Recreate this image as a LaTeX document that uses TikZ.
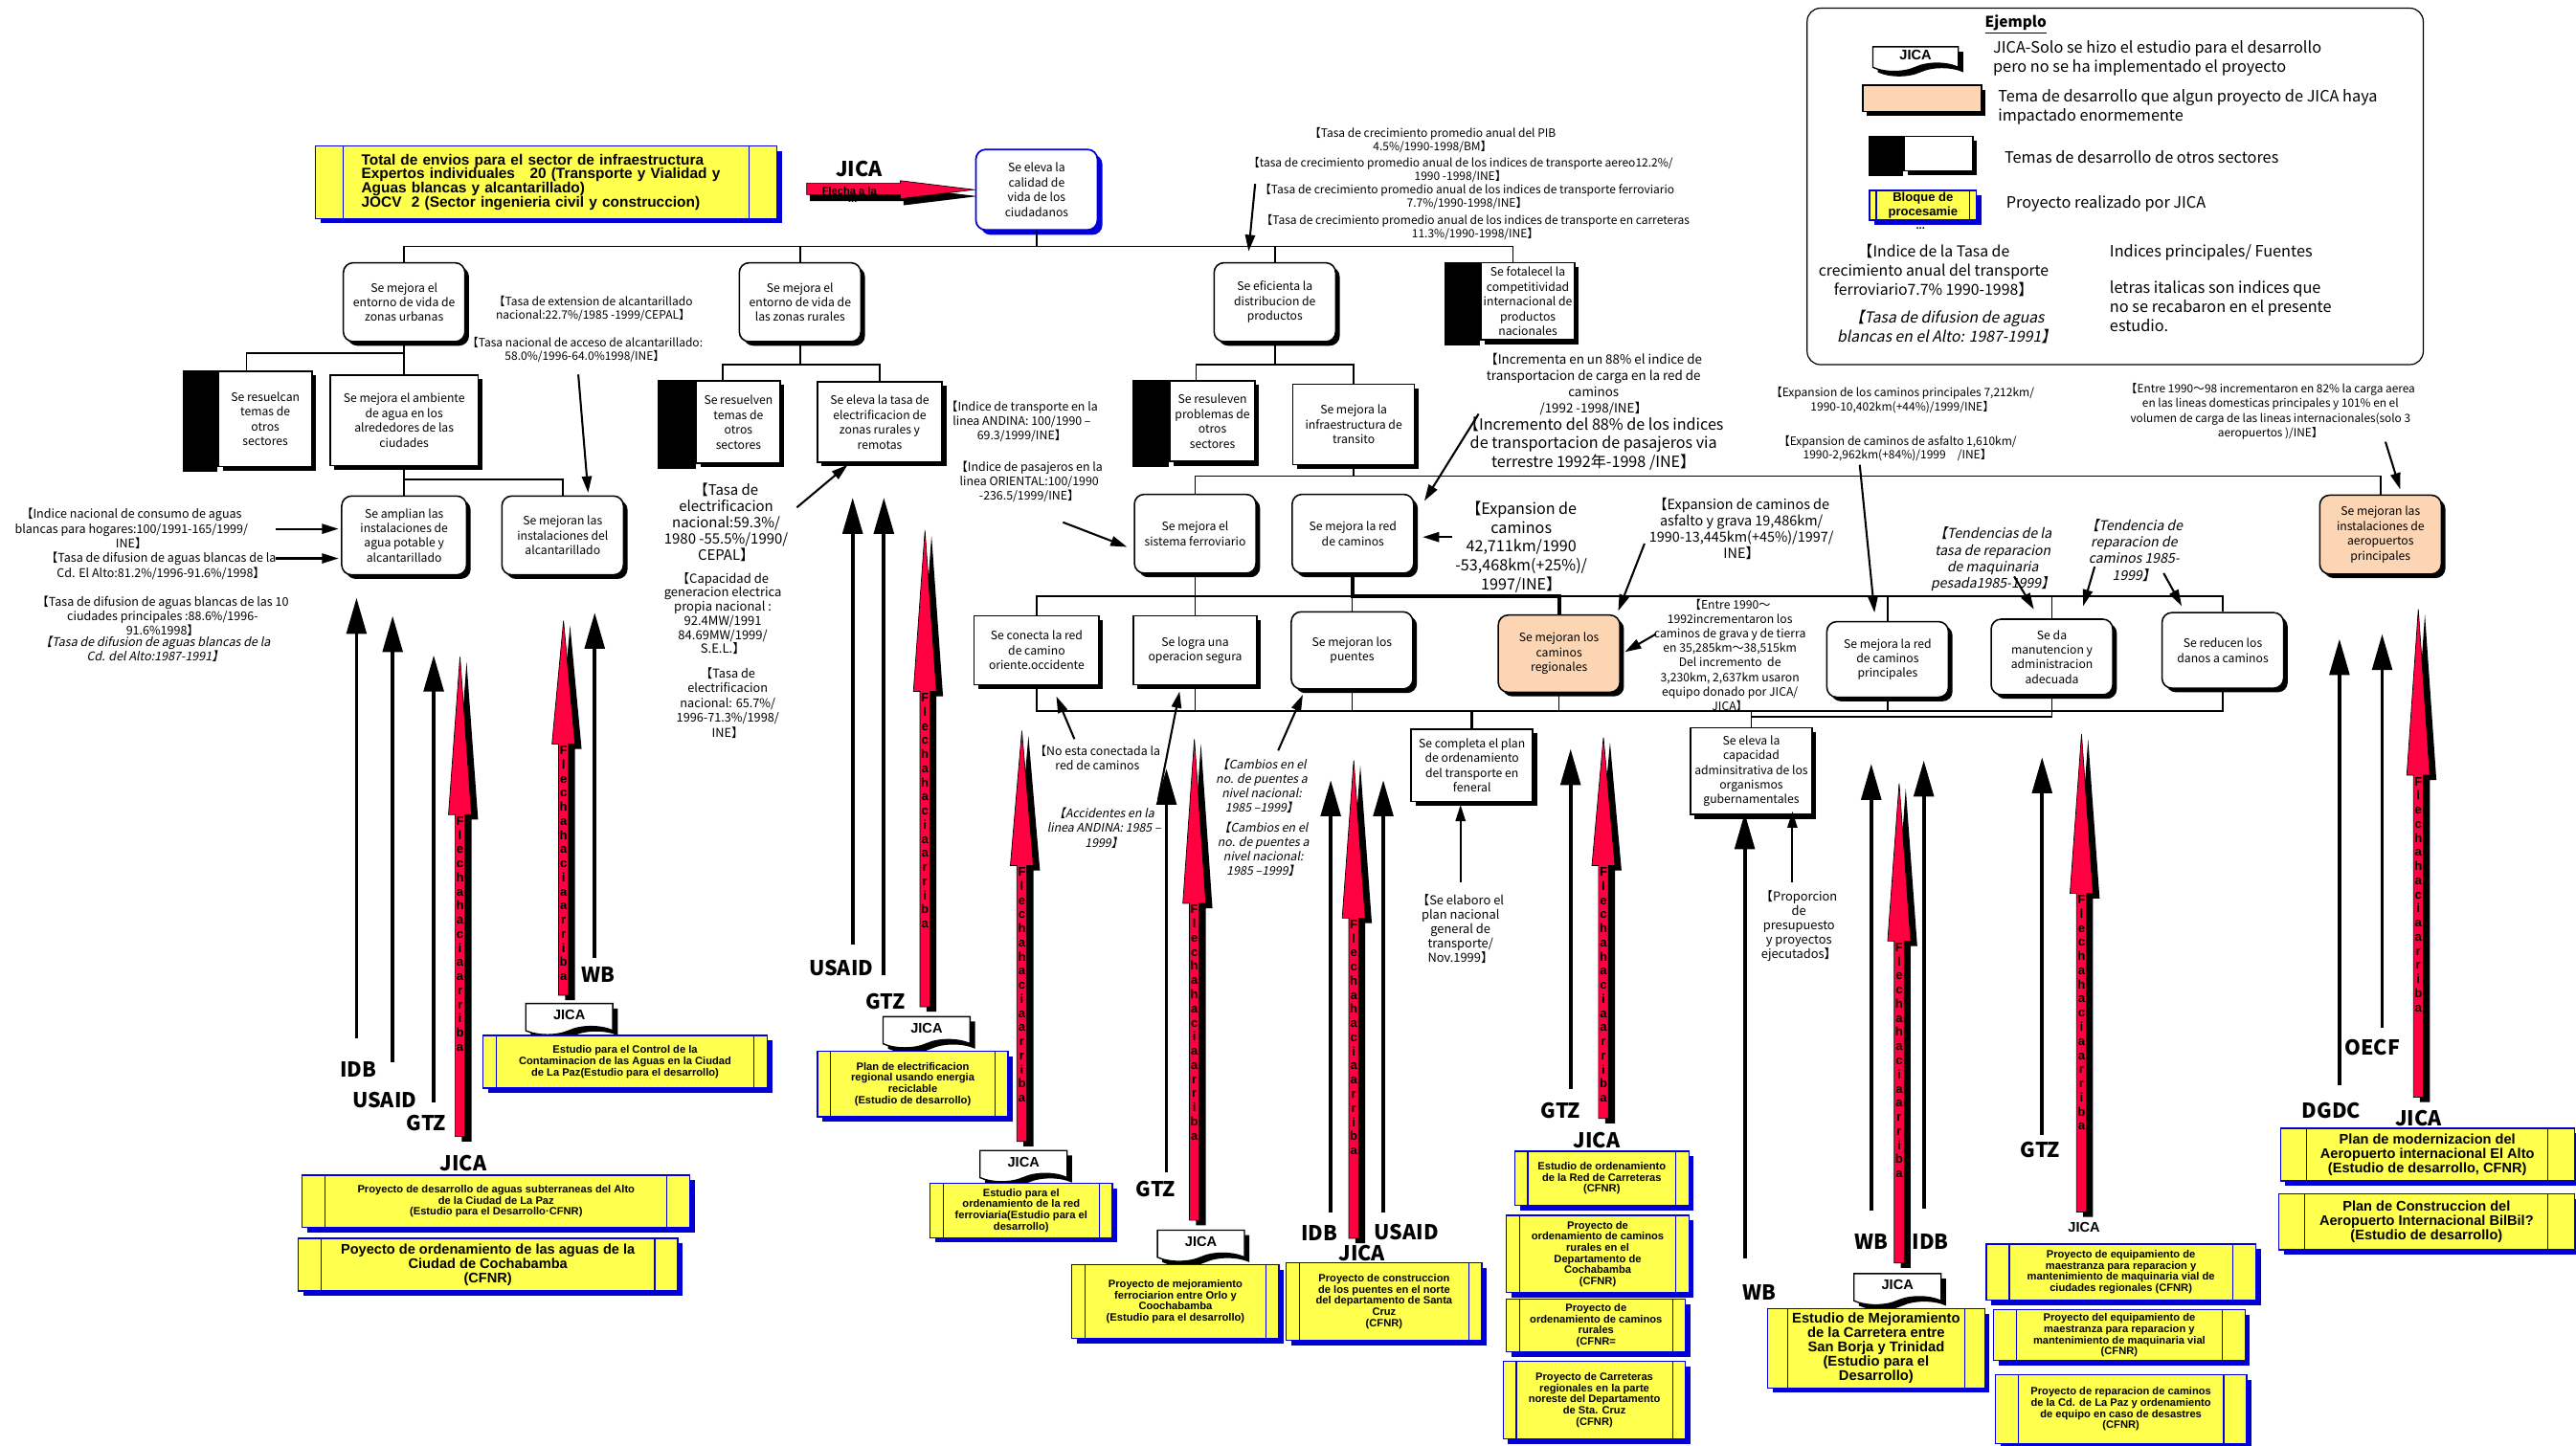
\documentclass[tikz,border=0pt]{standalone}
\usepackage{fontspec}
\setmainfont{Noto Sans CJK JP}[AutoFakeSlant=0.2]
\newfontfamily\projfont{Liberation Sans}
\usetikzlibrary{arrows.meta,calc,shadows,shapes.symbols}

\definecolor{projyellow}{RGB}{255,255,77}
\definecolor{projblue}{RGB}{0,0,215}
\definecolor{peach}{RGB}{252,214,180}
\definecolor{arrowred}{RGB}{255,0,64}

\newcommand\boxfont{\fontsize{7.1}{9}\selectfont}
\newcommand\notefont{\fontsize{7}{8.8}\selectfont}
\newcommand\legfont{\fontsize{9.5}{11.5}\selectfont}
\newcommand\projsmall{\projfont\bfseries\fontsize{6.5}{6.8}\selectfont}
\newcommand\projbig{\projfont\bfseries\fontsize{8.5}{8.7}\selectfont}
\newcommand\lblfont{\bfseries\fontsize{12.5}{13}\selectfont}

% black part of the boxes of other sectors
\newcommand\sidebar[2]{\fill ([xshift=-#2pt]#1.north west) rectangle ([yshift=-3pt]#1.south west);}

% red arrow: name, x, tip, head base, bottom
\newcommand\redarrow[5]{%
	\fill[black, shift={(4,3)}] (#2,#3) -- (#2+7,#4) -- (#2+3,#4) -- (#2+3,#5) -- (#2-3,#5) -- (#2-3,#4) -- (#2-7,#4) -- cycle;
	\filldraw[fill=arrowred, line width=.4pt] (#2,#3) -- (#2+7,#4) -- (#2+3,#4) -- (#2+3,#5) -- (#2-3,#5) -- (#2-3,#4) -- (#2-7,#4) -- cycle;
	\node[flecha] (#1) at (#2,#4+1) {F\\l\\e\\c\\h\\a\\h\\a\\c\\i\\a\\a\\r\\r\\i\\b\\a};}

\begin{document}
\begin{tikzpicture}[x=1pt, y=-1pt,
	tree/.style={line width=.9pt},
	thicktree/.style={line width=2.4pt},
	rbox/.style={draw, line width=.9pt, rounded corners=6pt, fill=white, align=center, font=\boxfont, inner sep=1pt,
		minimum width=74, minimum height=48, drop shadow={shadow xshift=2.5pt, shadow yshift=-2.5pt, fill=black, opacity=1}},
	sqbox/.style={rbox, sharp corners},
	topbox/.style={draw=projblue, line width=1pt, rounded corners=6pt, fill=white, align=center, font=\boxfont,
		minimum width=74, minimum height=49, drop shadow={shadow xshift=3pt, shadow yshift=-3pt, fill=projblue, opacity=1}},
	projbox/.style={draw=projblue, fill=projyellow, line width=.7pt, align=center, inner sep=1pt, font=\projsmall,
		drop shadow={shadow xshift=3pt, shadow yshift=-3pt, fill=projblue, opacity=1},
		path picture={\draw[projblue, line width=.7pt] ([xshift=#1]path picture bounding box.north west) -- ([xshift=#1]path picture bounding box.south west)
			([xshift=-#1]path picture bounding box.north east) -- ([xshift=-#1]path picture bounding box.south east);}},
	projbox/.default=8pt,
	banner/.style={shape=tape, tape bend top=none, tape bend height=5pt, draw, line width=.8pt, fill=white,
		font=\projfont\bfseries\fontsize{8.5}{9}\selectfont, minimum width=53, minimum height=19, inner sep=1pt,
		drop shadow={shadow xshift=3pt, shadow yshift=-3pt, fill=black, opacity=1}},
	note/.style={align=center, inner sep=0pt, font=\notefont},
	lbl/.style={inner sep=0pt, font=\lblfont},
	flecha/.style={text=black, font=\projfont\bfseries\fontsize{7.6}{8.6}\selectfont, align=center, anchor=north, inner sep=0pt},
	notearr/.style={line width=1.2pt, -{Triangle[length=10pt,width=6pt]}},
	fundarr/.style={line width=2.2pt, -{Triangle[length=22pt,width=12pt]}}]

	\useasboundingbox (0,0) rectangle (1568,880);

	% top
	\node[projbox=17pt, font=\projfont\bfseries\fontsize{9}{8.7}\selectfont, align=left, text width=225, inner xsep=28pt, minimum height=44] (envios) at (332.5,111)
		{Total de envios para el sector de infraestructura\\Expertos individuales\ \ \ 20 (Transporte y Vialidad y\\Aguas blancas y alcantarillado)\\JOCV\ \ 2 (Sector ingenieria civil y construccion)};
	\node[lbl] (jicatop) at (523,103) {JICA};
	\fill[black, shift={(2,4)}] (491,111.5) -- (548,111.5) -- (548,110) -- (593,115.5) -- (548,121) -- (548,118.5) -- (491,118.5) -- cycle;
	\filldraw[fill=arrowred, line width=.4pt] (491,111.5) -- (548,111.5) -- (548,110) -- (593,115.5) -- (548,121) -- (548,118.5) -- (491,118.5) -- cycle;
	\node[inner sep=0pt, font=\projfont\bfseries\fontsize{6.5}{7}\selectfont] (flechatop) at (517,116) {Flecha a la};
	\node[inner sep=0pt, font=\projfont\bfseries\fontsize{6.5}{7}\selectfont] (dotstop) at (519,123) {...};
	\node[topbox] (calidad) at (631,115.5) {Se eleva la\\calidad de\\vida de los\\ciudadanos};

	% level 1
	\node[rbox] (urban) at (246,184) {Se mejora el\\entorno de vida de\\zonas urbanas};
	\node[rbox] (rural) at (487,184) {Se mejora el\\entorno de vida de\\las zonas rurales};
	\node[rbox] (distrib) at (776,184) {Se eficienta la\\distribucion de\\productos};
	\node[sqbox, minimum width=57, minimum height=47, inner sep=0pt] (compet) at (930,183.5) {Se fotalecel la\\competitividad\\internacional de\\productos\\nacionales};
	\sidebar{compet}{22}
	\draw[tree] (calidad.south) -- (calidad.south |- 0,150);
	\draw[tree] (urban.north) |- (921,150) -- (921,160);
	\draw[tree] (rural.north) -- (rural.north |- 0,150);
	\draw[tree] (distrib.north) -- (distrib.north |- 0,150);

	% urban branch
	\node[sqbox, minimum width=57, minimum height=58] (otrosA) at (161.5,255) {Se resuelcan\\temas de\\otros\\sectores};
	\sidebar{otrosA}{21}
	\node[sqbox, minimum width=90, minimum height=55] (ambiente) at (246,256) {Se mejora el ambiente\\de agua en los\\alrededores de las\\ciudades};
	\node[rbox, minimum width=76] (agua) at (246,326) {Se amplian las\\instalaciones de\\agua potable y\\alcantarillado};
	\node[rbox] (alcant) at (342.5,326) {Se mejoran las\\instalaciones del\\alcantarillado};
	\draw[tree] (urban.south) -- (ambiente.north);
	\draw[tree] ([xshift=-11.5pt]otrosA.north) |- (ambiente.north |- 0,215);
	\draw[tree] (ambiente.south) -- (agua.north);
	\draw[tree] (ambiente.south |- 0,292) -| (alcant.north);

	\node[note, font=\fontsize{7}{8.5}\selectfont] (n_alc1) at (361,188) {【Tasa de extension de alcantarillado\\nacional:22.7\%/1985 -1999/CEPAL】};
	\node[note, font=\fontsize{7}{8.5}\selectfont] (n_alc2) at (356,213) {【Tasa nacional de acceso de alcantarillado:\\58.0\%/1996-64.0\%1998/INE】};
	\draw[notearr] (352,228) -- (358,300);
	\node[note, font=\fontsize{7.3}{9}\selectfont] (n_cons) at (80,322) {【Indice nacional de consumo de aguas\\blancas para hogares:100/1991-165/1999/\\INE】};
	\node[note, font=\fontsize{7.3}{9}\selectfont] (n_alto) at (98,344.5) {【Tasa de difusion de aguas blancas de la\\Cd. El Alto:81.2\%/1996-91.6\%/1998】};
	\node[note, font=\fontsize{7.3}{8.6}\selectfont] (n_diez) at (99,375) {【Tasa de difusion de aguas blancas de las 10\\ciudades principales :88.6\%/1996-\\91.6\%1998】};
	\node[note, font=\fontsize{7.3}{8.6}\selectfont\itshape] (n_diezI) at (94.5,395) {【Tasa de difusion de aguas blancas de la\\Cd. del Alto:1987-1991】};
	\draw[notearr] (168,322) -- (206,322);
	\draw[notearr] (168,340) -- (206,340);

	% rural branch
	\node[sqbox, minimum width=51, minimum height=50] (otrosB) at (449.5,257) {Se resuelven\\temas de\\otros\\sectores};
	\sidebar{otrosB}{23}
	\node[sqbox, minimum width=76, minimum height=49] (electr) at (535.5,257) {Se eleva la tasa de\\electrificacion de\\zonas rurales y\\remotas};
	\draw[tree] (rural.south) -- (rural.south |- 0,222);
	\draw[tree] ([xshift=-9.5pt]otrosB.north) |- (electr.north |- 0,222) -- (electr.north);
	\node[note, font=\fontsize{8.7}{9.8}\selectfont] (n_el1) at (442,318) {【Tasa de\\electrificacion\\nacional:59.3\%/\\1980 -55.5\%/1990/\\CEPAL】};
	\node[note, font=\fontsize{7.6}{8.6}\selectfont] (n_el2) at (440,373.5) {【Capacidad de\\generacion electrica\\propia nacional :\\92.4MW/1991\\84.69MW/1999/\\S.E.L.】};
	\node[note, font=\fontsize{7.4}{9}\selectfont] (n_el3) at (443,428) {【Tasa de\\electrificacion\\nacional: 65.7\%/\\1996-71.3\%/1998/\\INE】};
	\draw[notearr] (485,309) -- (516,283);
	\node[note, font=\fontsize{7.2}{8.7}\selectfont] (n_andina) at (622,256.5) {【Indice de transporte en la\\linea ANDINA: 100/1990 –\\69.3/1999/INE】};
	\node[note, font=\fontsize{7.2}{8.7}\selectfont] (n_oriental) at (626.5,293.5) {【Indice de pasajeros en la\\linea ORIENTAL:100/1990\\-236.5/1999/INE】};
	\draw[notearr] (647,318) -- (686,333);

	% distribution branch
	\node[sqbox, minimum width=52, minimum height=49] (otrosC) at (738,256.5) {Se resuleven\\problemas de\\otros\\sectores};
	\sidebar{otrosC}{22}
	\node[sqbox, minimum width=74, minimum height=49] (infra) at (824,258.5) {Se mejora la\\infraestructura de\\transito};
	\draw[tree] (distrib.south) -- (distrib.south |- 0,222);
	\draw[tree] ([xshift=-10pt]otrosC.north) |- (infra.north |- 0,222) -- (infra.north);
	\node[note, font=\fontsize{7}{8.1}\selectfont] (n_pib) at (872,85.5) {【Tasa de crecimiento promedio anual del PIB\\4.5\%/1990-1998/BM】};
	\node[note, font=\fontsize{7}{8.1}\selectfont] (n_aereo) at (889,103.5) {【tasa de crecimiento promedio anual de los indices de transporte aereo12.2\%/\\1990 -1998/INE】};
	\node[note, font=\fontsize{7}{8.1}\selectfont] (n_ferro) at (893,119.5) {【Tasa de crecimiento promedio anual de los indices de transporte ferroviario\\7.7\%/1990-1998/INE】};
	\node[note, font=\fontsize{7}{8.1}\selectfont] (n_carr) at (898,138.5) {【Tasa de crecimiento promedio anual de los indices de transporte en carreteras\\11.3\%/1990-1998/INE】};
	\draw[notearr] (764,112) -- (760,153);

	% transit
	\node[rbox] (ferro) at (727.5,325) {Se mejora el\\sistema ferroviario};
	\node[rbox] (redcam) at (823.5,325) {Se mejora la red\\de caminos};
	\node[rbox, fill=peach] (aero) at (1449,325.5) {Se mejoran las\\instalaciones de\\aeropuertos\\principales};
	\draw[tree] (infra.south) -- (infra.south |- 0,290);
	\draw[tree] (ferro.north) |- (aero.north |- 0,290) -- (aero.north);

	\node[note, font=\fontsize{7.8}{10}\selectfont] (n_carga) at (970,234) {【Incrementa en un 88\% el indice de\\transportacion de carga en la red de\\caminos\\/1992 -1998/INE】};
	\node[note, font=\fontsize{9.4}{11.5}\selectfont] (n_pasaj) at (970,270) {【Incremento del 88\% de los indices\\de transportacion de pasajeros via\\terrestre 1992年-1998 /INE】};
	\draw[notearr] (900,252) -- (867,305);
	\node[note, font=\fontsize{9.4}{11.5}\selectfont] (n_expan) at (926,333) {【Expansion de\\caminos\\42,711km/1990\\-53,468km(+25\%)/\\1997/INE】};
	\draw[notearr] (884,327) -- (866,327);
	\node[note, font=\fontsize{8.4}{10}\selectfont] (n_asf) at (1060,322) {【Expansion de caminos de\\asfalto y grava 19,486km/\\1990-13,445km(+45\%)/1997/\\INE】};
	\draw[notearr] (1001,331) -- (985,372);
	\node[note, font=\fontsize{7}{8.5}\selectfont] (n_princ) at (1158,243.5) {【Expansion de los caminos principales 7,212km/\\1990-10,402km(+44\%)/1999/INE】};
	\node[note, font=\fontsize{7}{8.5}\selectfont] (n_asf2) at (1155,273) {【Expansion de caminos de asfalto 1,610km/\\1990-2,962km(+84\%)/1999　/INE】};
	\draw[notearr] (1132,283) -- (1141,373);
	\node[note, font=\fontsize{8.2}{10}\selectfont\itshape] (n_maq) at (1213,340.5) {【Tendencias de la\\tasa de reparacion\\de maquinaria\\pesada1985-1999】};
	\node[note, font=\fontsize{8.2}{10}\selectfont\itshape] (n_repcam) at (1299,335) {【Tendencia de\\reparacion de\\caminos 1985-\\1999】};
	\draw[notearr] (1226,351) -- (1238,371);
	\draw[notearr] (1275,345) -- (1268,369);
	\draw[notearr] (1317,349) -- (1328,369);
	\node[note, font=\fontsize{6.9}{8.9}\selectfont] (n_aerea) at (1382,250.5) {【Entre 1990～98 incrementaron en 82\% la carga aerea\\en las lineas domesticas principales y 101\% en el\\volumen de carga de las lineas internacionales(solo 3\\aeropuertos )/INE】};
	\draw[notearr] (1452,269) -- (1461,298);

	% level 4
	\node[sqbox, minimum width=76, minimum height=42] (conecta) at (631,396) {Se conecta la red\\de camino\\oriente.occidente};
	\node[sqbox, minimum width=75, minimum height=42] (logra) at (727.5,396) {Se logra una\\operacion segura};
	\node[rbox, minimum height=47] (puentes) at (823,396) {Se mejoran los\\puentes};
	\node[rbox, fill=peach, minimum height=47] (regional) at (949,398) {Se mejoran los\\caminos\\regionales};
	\node[rbox, minimum height=46] (principal) at (1149,401.5) {Se mejora la red\\de caminos\\principales};
	\node[rbox, minimum height=46] (manut) at (1249,400) {Se da\\manutencion y\\administracion\\adecuada};
	\node[rbox, minimum height=46] (reducen) at (1353,396) {Se reducen los\\danos a caminos};
	\draw[tree] (ferro.south) -- (logra.north);
	\draw[tree] (conecta.north) |- (reducen.north |- 0,363) -- (reducen.north);
	\draw[thicktree] (redcam.south) |- (regional.north |- 0,363) -- (regional.north);
	\draw[tree] (puentes.north) -- (puentes.north |- 0,363);
	\draw[tree] (principal.north) -- (principal.north |- 0,363);
	\draw[tree] (manut.north) -- (manut.north |- 0,363);

	% level 5
	\node[sqbox, minimum height=44] (completa) at (896,466) {Se completa el plan\\de ordenamiento\\del transporte en\\feneral};
	\node[sqbox, minimum height=53] (capac) at (1066,469.5) {Se eleva la\\capacidad\\adminsitrativa de los\\organismos\\gubernamentales};
	\draw[tree] (conecta.south) |- (reducen.south |- 0,433) -- (reducen.south);
	\draw[tree] (logra.south) -- (logra.south |- 0,433);
	\draw[tree] (puentes.south) -- (puentes.south |- 0,433);
	\draw[tree] (regional.south) -- (regional.south |- 0,433);
	\draw[tree] (principal.south) -- (principal.south |- 0,433);
	\draw[line width=1.8pt] (completa.north) -- (completa.north |- 0,433);
	\draw[tree] (capac.north) -- (capac.north |- 0,433);
	\draw[tree] (capac.north |- 0,436.5) -| (manut.south);

	\node[note, font=\fontsize{7.2}{9}\selectfont] (n_noconec) at (668,461.5) {【No esta conectada la\\red de caminos};
	\draw[notearr] (654,450) -- (643,424);
	\node[note, font=\fontsize{7.2}{9}\selectfont\itshape] (n_accid) at (672,504) {【Accidentes en la\\linea ANDINA: 1985 –\\1999】};
	\draw[notearr] (705,487) -- (718,421);
	\node[note, font=\fontsize{7.2}{8.8}\selectfont\itshape] (n_puente1) at (768,478.5) {【Cambios en el\\no. de puentes a\\nivel nacional:\\1985 –1999】};
	\draw[notearr] (778,457) -- (793,423);
	\node[note, font=\fontsize{7.2}{8.8}\selectfont\itshape] (n_puente2) at (769,517) {【Cambios en el\\no. de puentes a\\nivel nacional:\\1985 –1999】};
	\node[note, font=\fontsize{7.1}{8.8}\selectfont] (n_entre) at (1053,399) {【Entre 1990～\\1992incrementaron los\\caminos de grava y de tierra\\en 35,285km～38,515km\\Del incremento\ \ de\\3,230km, 2,637km usaron\\equipo donado por JICA/\\JICA】};
	\draw[notearr] (1008,386) -- (989,397);
	\node[note, font=\fontsize{7.5}{8.7}\selectfont] (n_plan) at (889,565.5) {【Se elaboro el\\plan nacional\\general de\\transporte/\\Nov.1999】};
	\draw[notearr] (889,537) -- (889,490);
	\node[note, font=\fontsize{7.5}{8.7}\selectfont] (n_presup) at (1095,564) {【Proporcion\\de\\presupuesto\\y proyectos\\ejecutados】};
	\draw[notearr] (1091,537) -- (1091,494);

	% legend
	\node[draw, rounded corners=8pt, line width=.7pt, minimum width=375, minimum height=217] (legend) at (1287.5,113.5) {};
	\node[inner sep=0pt, font=\bfseries\fontsize{9}{10}\selectfont] (ej) at (1227,15) {\underline{Ejemplo}};
	\node[banner, minimum width=52, minimum height=15] (lgjica) at (1166,33.5) {JICA};
	\node[note, anchor=west, align=left, font=\legfont] (lg1) at (1213,35.5) {JICA-Solo se hizo el estudio para el desarrollo\\pero no se ha implementado el proyecto};
	\node[sqbox, fill=peach, minimum width=72, minimum height=16] (lgpeach) at (1170,60) {};
	\node[note, anchor=west, align=left, font=\legfont] (lg2) at (1216,65) {Tema de desarrollo que algun proyecto de JICA haya\\impactado enormemente};
	\node[sqbox, minimum width=42, minimum height=21] (lgother) at (1180,93.5) {};
	\sidebar{lgother}{21}
	\node[note, anchor=west, font=\legfont] (lg3) at (1220,95.5) {Temas de desarrollo de otros sectores};
	\node[projbox=4pt, font=\projfont\bfseries\fontsize{7.6}{8.4}\selectfont, minimum width=65, minimum height=18] (lgproj) at (1170.5,125) {Bloque de\\procesamie};
	\node[inner sep=0pt, font=\projfont\bfseries\fontsize{6.5}{7}\selectfont] (lgdots) at (1169,139) {...};
	\node[note, anchor=west, font=\legfont] (lg4) at (1221,124) {Proyecto realizado por JICA};
	\node[note, font=\fontsize{9.2}{11.5}\selectfont] (lg5) at (1177,164.5) {【Indice de la Tasa de\\crecimiento anual del transporte\\ferroviario7.7\% 1990-1998】};
	\node[note, font=\fontsize{9.2}{11.5}\selectfont\itshape] (lg6) at (1185,199) {【Tasa de difusion de aguas\\blancas en el Alto: 1987-1991】};
	\node[note, anchor=west, font=\legfont] (lg7) at (1284,153.5) {Indices principales/ Fuentes};
	\node[note, anchor=west, align=left, font=\legfont] (lg8) at (1284,186.5) {letras italicas son indices que\\no se recabaron en el presente\\estudio.};

	% contributions of the donors
	\draw[fundarr] (217,632) -- (217,364);
	\draw[fundarr] (239,647) -- (239,375);
	\draw[fundarr] (264,671) -- (264,399);
	\draw[fundarr] (362,583) -- (362,373);
	\draw[fundarr] (519,575) -- (519,303);
	\draw[fundarr] (538,594) -- (538,303);
	\draw[fundarr] (710,714) -- (710,468);
	\draw[fundarr] (810,738) -- (810,475);
	\draw[fundarr] (842,738) -- (842,475);
	\draw[fundarr] (956,663) -- (956,456);
	\draw[fundarr] (1062,766) -- (1062,495);
	\draw[fundarr] (1139,737) -- (1139,465);
	\draw[fundarr] (1171,736) -- (1171,463);
	\draw[fundarr] (1243,691) -- (1243,461);
	\draw[fundarr] (1424,661) -- (1424,389);
	\draw[fundarr] (1450,626) -- (1450,386);

	\redarrow{ra1}{280}{400}{496}{692}
	\redarrow{ra2}{343}{378}{453}{606}
	\redarrow{ra3}{563}{323}{421}{613}
	\redarrow{ra4}{622}{445}{527}{695}
	\redarrow{ra5}{727}{450}{550}{743}
	\redarrow{ra6}{824}{463}{559}{754}
	\redarrow{ra7}{976}{449}{527}{681}
	\redarrow{ra8}{1156}{477}{573}{769}
	\redarrow{ra9}{1267}{447}{544}{738}
	\redarrow{ra10}{1472}{371}{472}{668}

	\node[lbl] (l_idb1) at (218,651) {IDB};
	\node[lbl] (l_usaid1) at (234,670) {USAID};
	\node[lbl] (l_gtz1) at (259.5,683.5) {GTZ};
	\node[lbl] (l_jica1) at (282,708) {JICA};
	\node[lbl] (l_wb1) at (364,593.5) {WB};
	\node[lbl] (l_usaid2) at (512,589.5) {USAID};
	\node[lbl] (l_gtz2) at (539,610) {GTZ};
	\node[lbl] (l_gtz3) at (703.5,724) {GTZ};
	\node[lbl] (l_idb2) at (803,751) {IDB};
	\node[lbl] (l_jica2) at (829,763) {JICA};
	\node[lbl] (l_usaid3) at (856,750) {USAID};
	\node[lbl] (l_gtz4) at (950,676) {GTZ};
	\node[lbl] (l_jica3) at (972,694) {JICA};
	\node[lbl] (l_wb2) at (1071,787) {WB};
	\node[lbl] (l_wb3) at (1139,756) {WB};
	\node[lbl] (l_idb3) at (1175,756) {IDB};
	\node[lbl] (l_gtz5) at (1242,700) {GTZ};
	\node[inner sep=0pt, font=\projfont\bfseries\fontsize{8.5}{9}\selectfont] (l_jica4) at (1268.5,747.5) {JICA};
	\node[lbl] (l_dgdc) at (1419,676) {DGDC};
	\node[lbl] (l_oecf) at (1444,638) {OECF};
	\node[lbl] (l_jica5) at (1472,681) {JICA};

	% JICA studies
	\node[banner] (jb1) at (346.5,618) {JICA};
	\node[banner] (jb2) at (564,626) {JICA};
	\node[banner] (jb3) at (623,707.5) {JICA};
	\node[banner] (jb4) at (731,756) {JICA};
	\node[banner] (jb5) at (1155,782.5) {JICA};

	% projects of JICA
	\node[projbox=14pt, minimum width=236, minimum height=32] (py1) at (302,731.5) {Proyecto de desarrollo de aguas subterraneas del Alto\\de la Ciudad de La Paz\\(Estudio para el Desarrollo·CFNR)};
	\node[projbox=14pt, font=\projbig, minimum width=231, minimum height=32] (py2) at (297,770) {Poyecto de ordenamiento de las aguas de la\\Ciudad de Cochabamba\\(CFNR)};
	\node[projbox, minimum width=173, minimum height=32] (py3) at (380.5,646.5) {Estudio para el Control de la\\Contaminacion de las Aguas en la Ciudad\\de La Paz(Estudio para el desarrollo)};
	\node[projbox, minimum width=116, minimum height=40] (py4) at (555.6,660) {Plan de electrificacion\\regional usando energia\\reciclable\\(Estudio de desarrollo)};
	\node[projbox, minimum width=111, minimum height=33] (py5) at (621.6,737) {Estudio para el\\ordenamiento de la red\\ferroviaria(Estudio para el\\desarrollo)};
	\node[projbox, minimum width=126, minimum height=45] (py6) at (715.5,792.5) {Proyecto de mejoramiento\\ferrociarion entre Orlo y\\Coochabamba\\(Estudio para el desarrollo)};
	\node[projbox, minimum width=119, minimum height=47] (py7) at (842.5,792.5) {Proyecto de construccion\\de los puentes en el norte\\del departamento de Santa\\Cruz\\(CFNR)};
	\node[projbox, minimum width=106, minimum height=33] (py8) at (975,717.5) {Estudio de ordenamiento\\de la Red de Carreteras\\(CFNR)};
	\node[projbox, minimum width=111, minimum height=47] (py9) at (972.5,763.5) {Proyecto de\\ordenamiento de caminos\\rurales en el\\Departamento de\\Cochabamba\\(CFNR)};
	\node[projbox, minimum width=109, minimum height=32] (py10) at (971.5,807) {Proyecto de\\ordenamiento de caminos\\rurales\\(CFNR=};
	\node[projbox, minimum width=111, minimum height=47] (py11) at (970.5,852.5) {Proyecto de Carreteras\\regionales en la parte\\noreste del Departamento\\de Sta. Cruz\\(CFNR)};
	\node[projbox=12pt, font=\projfont\bfseries\fontsize{8.6}{8.7}\selectfont, inner sep=0pt, minimum width=132, minimum height=48] (py12) at (1142,821) {Estudio de Mejoramiento\\de la Carretera entre\\San Borja y Trinidad\\(Estudio para el\\Desarrollo)};
	\node[projbox=14pt, minimum width=164, minimum height=34] (py13) at (1291,774.5) {Proyecto de equipamiento de\\maestranza para reparacion y\\mantenimiento de maquinaria vial de\\ciudades regionales (CFNR)};
	\node[projbox=14pt, minimum width=153, minimum height=31] (py14) at (1290,813) {Proyecto del equipamiento de\\maestranza para reparacion y\\mantenimiento de maquinaria vial\\(CFNR)};
	\node[projbox=14pt, minimum width=153, minimum height=42] (py15) at (1291,858) {Proyecto de reparacion de caminos\\de la Cd. de La Paz y ordenamiento\\de equipo en caso de desastres\\(CFNR)};
	\node[projbox=16pt, font=\projbig, minimum width=179, minimum height=32] (py16) at (1477.5,703) {Plan de modernizacion del\\Aeropuerto internacional El Alto\\(Estudio de desarrollo, CFNR)};
	\node[projbox=16pt, font=\projbig, minimum width=180, minimum height=34] (py17) at (1477,744) {Plan de Construccion del\\Aeropuerto Internacional BilBil?\\(Estudio de desarrollo)};
\end{tikzpicture}
\end{document}
